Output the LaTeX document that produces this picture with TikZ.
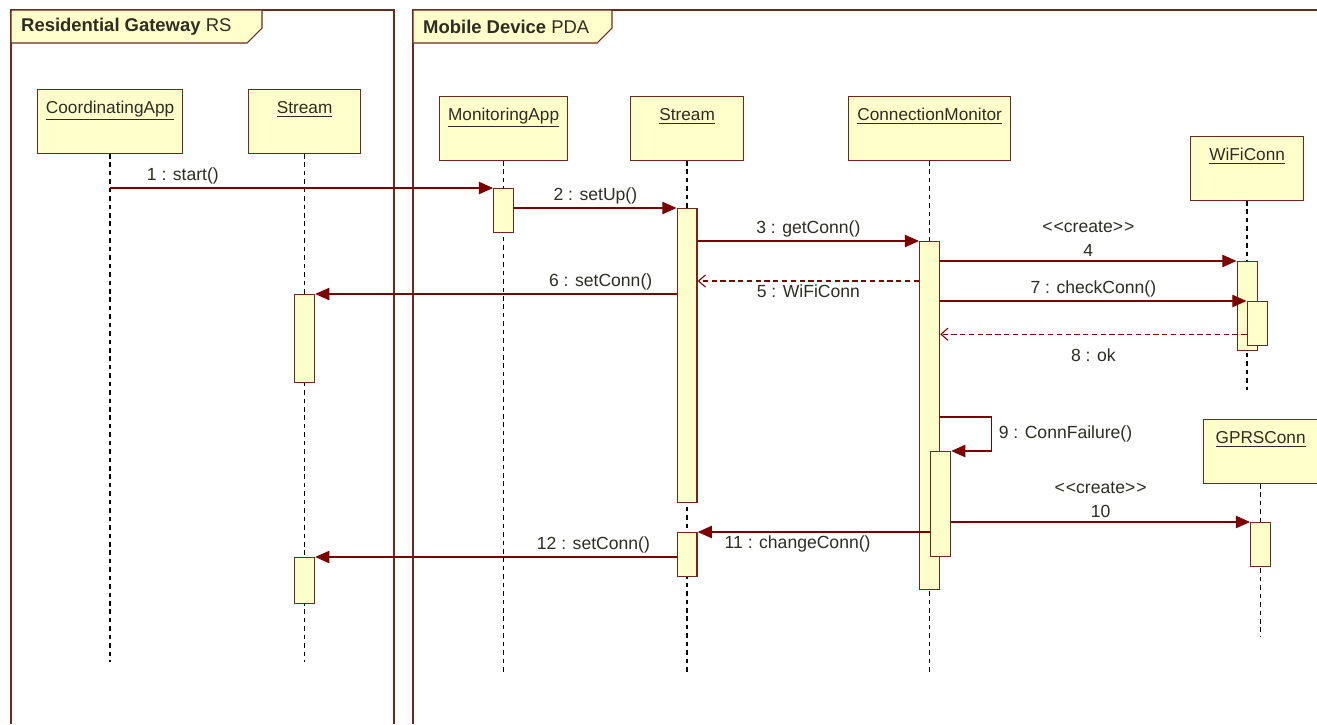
\documentclass[tikz,border=0pt]{standalone}
\usepackage{fontspec}
\setmainfont{Liberation Sans}
\usetikzlibrary{arrows.meta,positioning,calc}

\definecolor{umlline}{RGB}{110,40,30}
\definecolor{umlfill}{RGB}{255,255,204}
\definecolor{msgred}{RGB}{125,0,0}
\definecolor{umltext}{RGB}{45,45,35}

\begin{document}
\begin{tikzpicture}[x=0.02cm,y=-0.02cm,
    frame/.style={draw=umlline, line width=0.6pt},
    head/.style={draw=umlline, fill=umlfill, line width=0.7pt, anchor=north west,
        inner ysep=3pt, text height=10.6pt, text depth=19.7pt,
        font=\fontsize{9.8}{11}\selectfont, text=umltext},
    act/.style={draw=umlline, fill=umlfill, line width=0.7pt, anchor=north,
        minimum width=0.4cm, inner sep=0pt},
    life/.style={line width=0.8pt, dash pattern=on 2.6pt off 2.2pt},
    msg/.style={draw=msgred, line width=0.6pt, -{Triangle[length=8pt,width=7pt]}},
    ret/.style={draw=msgred, line width=0.6pt, dash pattern=on 3pt off 2pt,
        -{Straight Barb[length=4pt,width=7pt]}},
    lbl/.style={font=\fontsize{10}{14}\selectfont, text=umltext, inner sep=2pt, align=center}]

    \useasboundingbox[fill=white] (0,0) rectangle (1317,724);

    % Frames
    \draw[frame] (11,724) -- (11,10) -- (394,10) -- (394,724);
    \draw[frame, fill=umlfill] (11,10) -- (262,10) -- (262,28) -- (247,43) -- (11,43) -- cycle;
    \node[anchor=west, font=\fontsize{10.5}{12}\selectfont, text=umltext] (rsTitle) at (15,27)
        {\textbf{Residential Gateway} RS};

    \draw[frame] (413,724) -- (413,10) -- (1317,10);
    \draw[frame, fill=umlfill] (413,10) -- (612,10) -- (612,28) -- (597,43) -- (413,43) -- cycle;
    \node[anchor=west, font=\fontsize{10.5}{12}\selectfont, text=umltext] (pdaTitle) at (417,27)
        {\textbf{Mobile Device} PDA};

    % Lifeline heads
    \node[head, minimum width=2.9cm] (ca) at (37,89) {\underline{CoordinatingApp}};
    \node[head, minimum width=2.24cm] (rs) at (248,89) {\underline{Stream}};
    \node[head, minimum width=2.56cm] (ma) at (439,96) {\underline{MonitoringApp}};
    \node[head, minimum width=2.26cm] (ps) at (630,96) {\underline{Stream}};
    \node[head, minimum width=3.24cm] (cm) at (848,96) {\underline{ConnectionMonitor}};
    \node[head, minimum width=2.26cm] (wc) at (1190,136) {\underline{WiFiConn}};
    \node[head, minimum width=2.28cm] (gc) at (1203,419) {\underline{GPRSConn}};

    % Lifelines
    \foreach \n/\y in {ca/662, rs/662, ma/672, ps/672, cm/672, wc/390, gc/637} {
        \coordinate (\n-end) at (\n.south |- 0,\y);
        \draw[life] (\n.south) -- (\n-end);
    }

    % Activations
    \node[act, minimum height=0.88cm] (ma1) at (ma.south |- 0,188) {};
    \node[act, minimum height=5.88cm] (ps1) at (ps.south |- 0,208) {};
    \node[act, minimum height=0.88cm] (ps2) at (ps.south |- 0,532) {};
    \node[act, minimum height=6.96cm] (cm1) at (cm.south |- 0,241) {};
    \node[act, minimum height=2.1cm, xshift=0.22cm] (cm2) at (cm.south |- 0,451) {};
    \node[act, minimum height=1.78cm] (wc1) at (wc.south |- 0,261) {};
    \node[act, minimum height=0.88cm, xshift=0.2cm] (wc2) at (wc.south |- 0,301) {};
    \node[act, minimum height=0.88cm] (gc1) at (gc.south |- 0,522) {};
    \node[act, minimum height=1.76cm] (rs1) at (rs.south |- 0,294) {};
    \node[act, minimum height=0.92cm] (rs2) at (rs.south |- 0,557) {};

    % Messages
    \draw[msg] (ca.south |- ma1.north) -- node[lbl, above, pos=0.19] (m1) {1 : start()} (ma1.north west);
    \draw[msg] (ma1.east |- ps1.north) -- node[lbl, above] (m2) {2 : setUp()} (ps1.north west);
    \draw[msg] (ps1.east |- cm1.north) -- node[lbl, above] (m3) {3 : getConn()} (cm1.north west);
    \draw[msg] (cm1.east |- wc1.north) -- node[lbl, above]
        (m4) {<\kern0.6pt<create>\kern0.6pt>\\4} (wc1.north west);
    \coordinate (r5) at ([yshift=-0.8cm]cm1.north west);
    \draw[ret] (r5) -- node[lbl, below] (m5) {5 : WiFiConn} (ps1.east |- r5);
    \draw[msg] (ps1.west |- rs1.north) -- node[lbl, above, pos=0.21] (m6) {6 : setConn()} (rs1.north east);
    \draw[msg] (cm1.east |- wc2.north) -- node[lbl, above] (m7) {7 : checkConn()} (wc2.north west);
    \coordinate (r8) at ([yshift=0.24cm]wc2.south west);
    \draw[ret] (r8) -- node[lbl, below=6pt] (m8) {8 : ok} (cm1.east |- r8);
    \coordinate (s9) at ([yshift=-3.52cm]cm1.north east);
    \draw[msg] (s9) -- ++(1.02cm,0) |- node[lbl, right, pos=0.25, xshift=2pt]
        (m9) {9 : ConnFailure()} (cm2.north east);
    \draw[msg] (cm2.east |- gc1.north) -- node[lbl, above]
        (m10) {<\kern0.6pt<create>\kern0.6pt>\\10} (gc1.north west);
    \draw[msg] (cm2.west |- ps2.north) -- node[lbl, below, pos=0.57] (m11) {11 : changeConn()} (ps2.north east);
    \draw[msg] (ps2.west |- rs2.north) -- node[lbl, above, pos=0.23] (m12) {12 : setConn()} (rs2.north east);
\end{tikzpicture}
\end{document}
